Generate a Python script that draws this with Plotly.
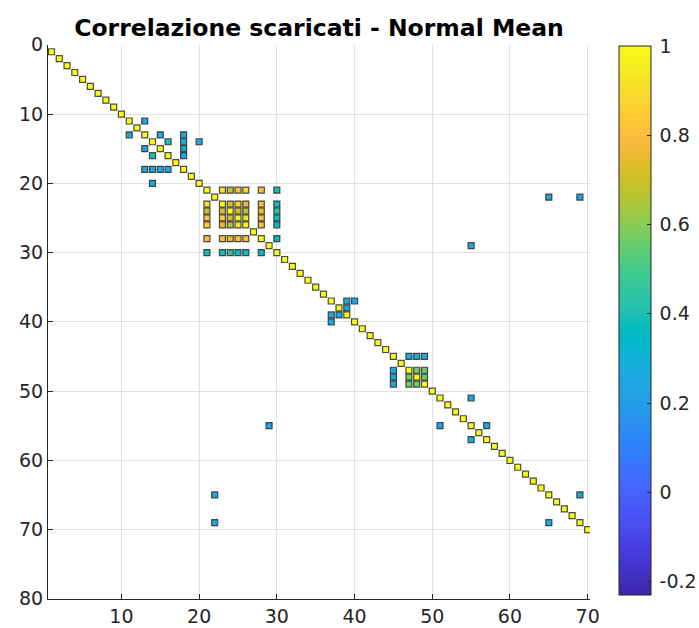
import plotly.graph_objects as go

# ---- data: correlation matrix (symmetric), only significant entries shown ----
N_VARS = 70
diag_value = 1.0

# upper-triangle entries (row < col)
pair_rows = [11, 13, 14, 13, 14, 15, 16, 14,
             21, 21, 21, 21, 21, 21,
             23, 23, 23, 23, 23,
             24, 24, 24, 24,
             25, 25, 25,
             26, 26,
             28,
             22, 22, 29,
             37, 37, 38,
             45, 45, 45, 47, 47, 48,
             51, 55, 65]
pair_cols = [13, 15, 16, 18, 18, 18, 18, 20,
             23, 24, 25, 26, 28, 30,
             24, 25, 26, 28, 30,
             25, 26, 28, 30,
             26, 28, 30,
             28, 30,
             30,
             65, 69, 55,
             39, 40, 39,
             47, 48, 49, 48, 49, 49,
             55, 57, 69]
pair_vals = [0.25, 0.25, 0.40, 0.25, 0.25, 0.25, 0.25, 0.25,
             0.93, 0.68, 0.82, 0.88, 0.80, 0.38,
             0.72, 0.86, 0.76, 0.80, 0.38,
             0.72, 0.66, 0.74, 0.42,
             0.93, 0.80, 0.38,
             0.80, 0.37,
             0.36,
             0.26, 0.26, 0.25,
             0.25, 0.25, 0.25,
             0.26, 0.26, 0.26, 0.57, 0.56, 0.57,
             0.25, 0.25, 0.26]

c_min, c_max = -0.23, 1.0
cbar_ticks = [-0.2, 0, 0.2, 0.4, 0.6, 0.8, 1]
x_ticks = [10, 20, 30, 40, 50, 60, 70]
y_ticks = [0, 10, 20, 30, 40, 50, 60, 70, 80]

# parula colormap (64 entries)
parula = [
    (0.2422, 0.1504, 0.6603), (0.2504, 0.1650, 0.7076), (0.2578, 0.1818, 0.7511),
    (0.2647, 0.1978, 0.7952), (0.2706, 0.2147, 0.8364), (0.2751, 0.2342, 0.8710),
    (0.2783, 0.2559, 0.8991), (0.2803, 0.2782, 0.9221), (0.2813, 0.3006, 0.9414),
    (0.2810, 0.3228, 0.9579), (0.2795, 0.3447, 0.9717), (0.2760, 0.3667, 0.9829),
    (0.2699, 0.3892, 0.9906), (0.2602, 0.4123, 0.9952), (0.2440, 0.4358, 0.9988),
    (0.2206, 0.4603, 0.9973), (0.1963, 0.4847, 0.9892), (0.1834, 0.5074, 0.9798),
    (0.1786, 0.5289, 0.9682), (0.1764, 0.5499, 0.9520), (0.1687, 0.5703, 0.9359),
    (0.1540, 0.5902, 0.9218), (0.1460, 0.6091, 0.9079), (0.1380, 0.6276, 0.8973),
    (0.1248, 0.6459, 0.8883), (0.1113, 0.6635, 0.8763), (0.0952, 0.6798, 0.8598),
    (0.0689, 0.6948, 0.8394), (0.0297, 0.7082, 0.8163), (0.0036, 0.7203, 0.7917),
    (0.0067, 0.7312, 0.7660), (0.0433, 0.7411, 0.7394), (0.0964, 0.7500, 0.7120),
    (0.1408, 0.7584, 0.6842), (0.1717, 0.7670, 0.6554), (0.1938, 0.7758, 0.6251),
    (0.2161, 0.7843, 0.5923), (0.2470, 0.7918, 0.5567), (0.2906, 0.7973, 0.5188),
    (0.3406, 0.8008, 0.4789), (0.3909, 0.8029, 0.4354), (0.4456, 0.8024, 0.3909),
    (0.5044, 0.7993, 0.3480), (0.5616, 0.7942, 0.3045), (0.6174, 0.7876, 0.2612),
    (0.6720, 0.7793, 0.2227), (0.7242, 0.7698, 0.1910), (0.7738, 0.7598, 0.1646),
    (0.8203, 0.7498, 0.1535), (0.8634, 0.7406, 0.1596), (0.9035, 0.7330, 0.1774),
    (0.9393, 0.7288, 0.2100), (0.9728, 0.7298, 0.2394), (0.9956, 0.7434, 0.2371),
    (0.9970, 0.7659, 0.2199), (0.9952, 0.7893, 0.2028), (0.9892, 0.8136, 0.1885),
    (0.9786, 0.8386, 0.1766), (0.9676, 0.8639, 0.1643), (0.9610, 0.8890, 0.1537),
    (0.9597, 0.9135, 0.1423), (0.9628, 0.9373, 0.1265), (0.9691, 0.9606, 0.1064),
    (0.9769, 0.9839, 0.0805),
]
colorscale = [
    [i / (len(parula) - 1), "rgb(%d,%d,%d)" % tuple(round(c * 255) for c in rgb)]
    for i, rgb in enumerate(parula)
]

# ---- assemble full symmetric set of points ----
xs, ys, vs = [], [], []
for i in range(1, N_VARS + 1):
    xs.append(i); ys.append(i); vs.append(diag_value)
for r, c, v in zip(pair_rows, pair_cols, pair_vals):
    xs += [c, r]; ys += [r, c]; vs += [v, v]

W, H = 699, 628
left_px, right_px, top_px, bottom_px = 48.0, 590.0, 44.8, 598.8

tick_font = dict(family="DejaVu Sans", size=19, color="#262626")

fig = go.Figure(
    go.Scatter(
        x=xs, y=ys, mode="markers",
        marker=dict(
            symbol="square", size=6,
            color=vs, colorscale=colorscale, cmin=c_min, cmax=c_max,
            line=dict(width=1.2, color="rgba(45,45,45,0.85)"),
            colorbar=dict(
                x=619 / W, xanchor="left", xref="paper",
                y=1 - 46 / H, yanchor="top", yref="paper",
                len=549 / H, lenmode="fraction",
                thickness=32, thicknessmode="pixels",
                outlinewidth=1, outlinecolor="#262626",
                tickvals=cbar_ticks,
                ticktext=["\u2009" + f"{t:g}" for t in cbar_ticks],
                ticks="inside", ticklen=4, tickcolor="#262626", tickwidth=1,
                tickfont=tick_font, xpad=0, ypad=0,
            ),
        ),
        showlegend=False, hoverinfo="skip",
    )
)

fig.update_layout(
    width=W, height=H,
    margin=dict(l=0, r=0, t=0, b=0, autoexpand=False),
    paper_bgcolor="white", plot_bgcolor="white",
    title=dict(
        text="<b>Correlazione scaricati - Normal Mean</b>",
        font=dict(family="DejaVu Sans", size=23.5, color="black"),
        x=(left_px + right_px) / 2 / W, xanchor="center", xref="paper",
        y=1 - 28 / H, yanchor="middle", yref="paper",
    ),
    xaxis=dict(
        domain=[left_px / W, right_px / W],
        range=[0.55, 70.3],
        tickvals=x_ticks, ticks="inside", ticklen=5, tickcolor="#262626",
        showgrid=True, gridcolor="#e0e0e0", gridwidth=1,
        showline=True, linecolor="#262626", linewidth=1,
        zeroline=False, tickfont=tick_font, ticklabelstandoff=0,
    ),
    yaxis=dict(
        domain=[1 - bottom_px / H, 1 - top_px / H],
        range=[80, 0],
        tickvals=y_ticks, ticks="inside", ticklen=5, tickcolor="#262626",
        showgrid=True, gridcolor="#e0e0e0", gridwidth=1,
        showline=True, linecolor="#262626", linewidth=1,
        zeroline=False, tickfont=tick_font,
    ),
)

fig.write_html("out.html")
